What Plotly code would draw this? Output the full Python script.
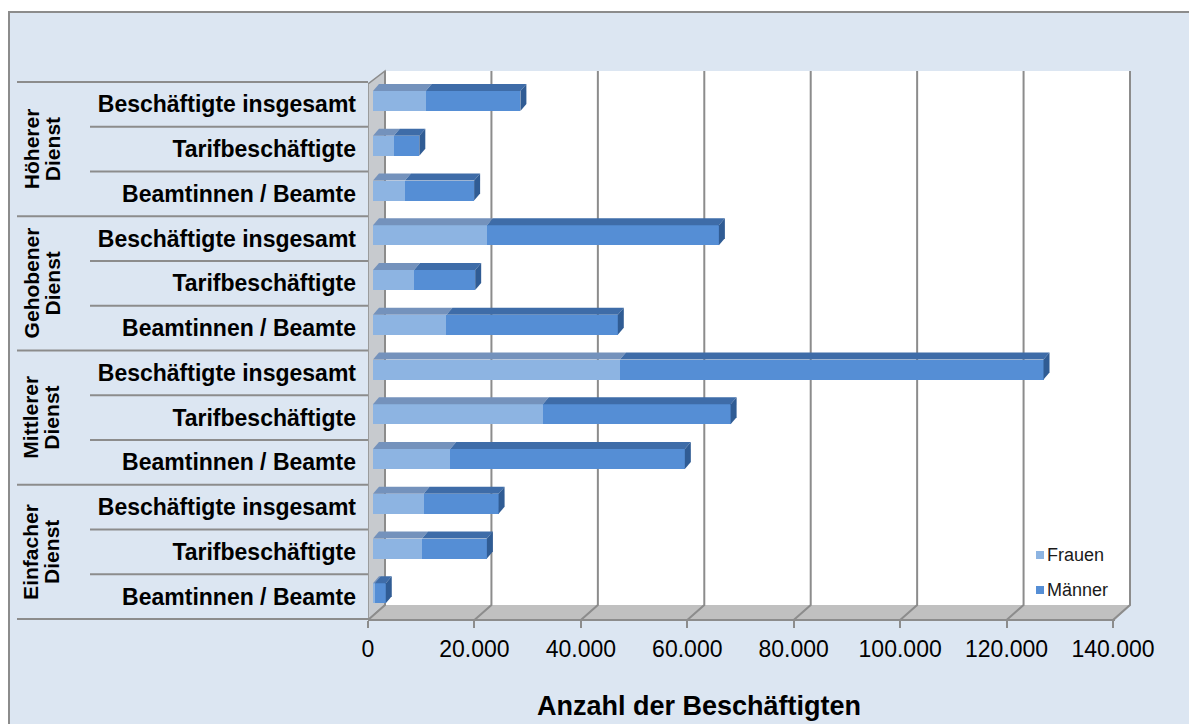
import plotly.graph_objects as go

# --- data -------------------------------------------------------------
groups = ["Höherer Dienst", "Gehobener Dienst", "Mittlerer Dienst", "Einfacher Dienst"]
subcategories = ["Beschäftigte insgesamt", "Tarifbeschäftigte", "Beamtinnen / Beamte"]
series_names = ["Frauen", "Männer"]
frauen = [9900, 3900, 6000, 21400, 7700, 13800, 46400, 31900, 14500, 9500, 9200, 300]
maenner = [17800, 4800, 13000, 43600, 11500, 32200, 79600, 35300, 44100, 14100, 12200, 2100]
tick_values = [0, 20000, 40000, 60000, 80000, 100000, 120000, 140000]
axis_title = "Anzahl der Beschäftigten"

row_labels = [s for _ in groups for s in subcategories]
rows = list(range(len(row_labels)))

# --- styling / geometry (pixels) --------------------------------------
W, H = 1189, 724
PL, PR, PT, PB = 368, 1133, 70, 620          # plot area
ZERO_FACE = 373                               # bar faces start here
K = 745 / 140000                              # px per unit
ROW_TOP, ROW_H = 82, 44.75
BG = "#DCE6F2"
GRID = "#8C8C8C"
WALL = "#C7CACE"
FLOOR = "#C0C0C0"
C_F, C_M = "#8DB4E2", "#558ED5"
C_F_TOP, C_M_TOP, C_SIDE = "#7492BC", "#3E6CA8", "#305C94"
FONT = "Liberation Sans, Arial, sans-serif"


def px_x(px):            # pixel -> main x data
    return (px - ZERO_FACE) / K


def px_paper_x(px):
    return (px - PL) / (PR - PL)


def px_paper_y(py):
    return (PB - py) / (PB - PT)


def px_y(py):            # pixel -> y data (row index)
    return (py - ROW_TOP) / ROW_H - 0.5


def de_number(v):
    return f"{v:,}".replace(",", ".")


XMIN, XMAX = px_x(PL), px_x(PR)
FRONT_SHIFT = px_x(368)          # front edge of the box floor
BACK_SHIFT = px_x(385)           # back wall
BAR_W = 20 / ROW_H
BAR_OFF = px_y(91)               # top edge of bar face relative to row centre
DX = 6 / K
DY = 7 / ROW_H

fig = go.Figure()
for name, vals, col in [(series_names[0], frauen, C_F), (series_names[1], maenner, C_M)]:
    fig.add_trace(go.Bar(
        orientation="h", x=vals, y=rows, name=name,
        marker=dict(color=col, line=dict(width=0)),
        width=BAR_W, offset=BAR_OFF, hoverinfo="x+name",
    ))

shapes = []
# walls, floor and gridlines of the 3-D box
shapes.append(dict(type="path", xref="x", yref="paper", layer="below", line=dict(width=0),
                   fillcolor="white",
                   path=f"M{px_x(385)},{px_paper_y(71)} L{px_x(1131)},{px_paper_y(71)} "
                        f"L{px_x(1131)},{px_paper_y(605)} L{px_x(385)},{px_paper_y(605)} Z"))
shapes.append(dict(type="path", xref="x", yref="paper", layer="below",
                   line=dict(width=1.5, color=GRID), fillcolor=WALL,
                   path=f"M{px_x(368)},{px_paper_y(84)} L{px_x(385)},{px_paper_y(71)} "
                        f"L{px_x(385)},{px_paper_y(605)} L{px_x(368)},{px_paper_y(620)} Z"))
shapes.append(dict(type="path", xref="x", yref="paper", layer="below", line=dict(width=0),
                   fillcolor=FLOOR,
                   path=f"M{px_x(368)},{px_paper_y(620)} L{px_x(385)},{px_paper_y(605)} "
                        f"L{px_x(1131)},{px_paper_y(605)} L{px_x(1115)},{px_paper_y(620)} Z"))
for v in tick_values:
    xb = BACK_SHIFT + v
    xf = FRONT_SHIFT + v
    shapes.append(dict(type="path", xref="x", yref="paper", layer="below",
                       line=dict(width=2, color=GRID),
                       path=f"M{xb},{px_paper_y(71)} L{xb},{px_paper_y(605)} L{xf},{px_paper_y(620)}"))
shapes.append(dict(type="line", xref="x", yref="paper", layer="below",
                   x0=px_x(368), x1=px_x(1115), y0=0, y1=0, line=dict(width=2, color=GRID)))

# 3-D bevels on the bars
for i, (f, m) in enumerate(zip(frauen, maenner)):
    top = i + BAR_OFF
    bot = top + BAR_W
    segs = [(0, f, C_F_TOP), (f, f + m, C_M_TOP)]
    for x0, x1, col in segs:
        if x1 <= x0:
            continue
        shapes.append(dict(type="path", xref="x", yref="y", layer="above", line=dict(width=0),
                           fillcolor=col,
                           path=f"M{x0},{top} L{x0 + DX},{top - DY} L{x1 + DX},{top - DY} L{x1},{top} Z"))
    end = f + m
    shapes.append(dict(type="path", xref="x", yref="y", layer="above", line=dict(width=0),
                       fillcolor=C_SIDE,
                       path=f"M{end},{top} L{end + DX},{top - DY} L{end + DX},{bot - DY} L{end},{bot} Z"))

# separators of the category table on the left
for k in range(len(rows) + 1):
    x_start = 17 if k % 3 == 0 else 90
    shapes.append(dict(type="line", xref="paper", yref="y", layer="below",
                       x0=px_paper_x(x_start), x1=px_paper_x(368), y0=k - 0.5, y1=k - 0.5,
                       line=dict(width=2, color=GRID)))

# outer frame
shapes.append(dict(type="rect", xref="paper", yref="paper", layer="below", line=dict(width=0),
                   fillcolor="white", x0=px_paper_x(0), x1=px_paper_x(W),
                   y0=px_paper_y(12), y1=px_paper_y(0)))
shapes.append(dict(type="rect", xref="paper", yref="paper", layer="below", line=dict(width=0),
                   fillcolor="white", x0=px_paper_x(0), x1=px_paper_x(9),
                   y0=px_paper_y(H), y1=px_paper_y(0)))
shapes.append(dict(type="path", xref="paper", yref="paper", layer="below",
                   line=dict(width=2, color=GRID),
                   path=f"M{px_paper_x(W)},{px_paper_y(12)} L{px_paper_x(9)},{px_paper_y(12)} "
                        f"L{px_paper_x(9)},{px_paper_y(H)}"))

# legend
legend_y = [555, 590]
for name, col, yy in zip(series_names, [C_F, C_M], legend_y):
    shapes.append(dict(type="rect", xref="paper", yref="paper", layer="above",
                       line=dict(width=0), fillcolor=col,
                       x0=px_paper_x(1036), x1=px_paper_x(1044),
                       y0=px_paper_y(yy + 4), y1=px_paper_y(yy - 4)))

annotations = []
for name, yy in zip(series_names, legend_y):
    annotations.append(dict(text=name, xref="paper", yref="paper", showarrow=False,
                            x=px_paper_x(1045), y=px_paper_y(yy), xanchor="left", yanchor="middle",
                            font=dict(family=FONT, size=18, color="#1a1a1a")))

# rotated group labels
for g, grp in enumerate(groups):
    first, second = grp.split(" ")
    yc = 3 * g + 1
    for text, xc in [(first, 31), (second, 52)]:
        annotations.append(dict(text=text, xref="paper", yref="y", showarrow=False,
                                x=px_paper_x(xc), y=yc, textangle=-90,
                                xanchor="center", yanchor="middle",
                                font=dict(family=FONT, size=21, color="black", weight="bold")))

annotations.append(dict(text=axis_title, xref="paper", yref="paper", showarrow=False,
                        x=px_paper_x(699), y=px_paper_y(706), xanchor="center", yanchor="middle",
                        font=dict(family=FONT, size=27, color="black", weight="bold")))

fig.update_layout(
    width=W, height=H,
    margin=dict(l=PL, r=W - PR, t=PT, b=H - PB, pad=0),
    paper_bgcolor=BG, plot_bgcolor=BG,
    barmode="stack", showlegend=False,
    xaxis=dict(range=[XMIN, XMAX], showgrid=False, zeroline=False, showline=False,
               tickvals=[FRONT_SHIFT + v for v in tick_values],
               ticktext=[de_number(v) for v in tick_values],
               ticks="outside", ticklen=7, tickwidth=2, tickcolor=GRID,
               ticklabelstandoff=1, tickfont=dict(family=FONT, size=23, color="black"),
               fixedrange=True),
    yaxis=dict(range=[px_y(PB), px_y(PT)], tickvals=rows, ticktext=row_labels,
               showgrid=False, zeroline=False, showline=False, ticks="",
               ticklabelstandoff=11, fixedrange=True,
               tickfont=dict(family=FONT, size=23, color="black", weight="bold")),
    shapes=shapes, annotations=annotations,
)

fig.write_html("out.html")
